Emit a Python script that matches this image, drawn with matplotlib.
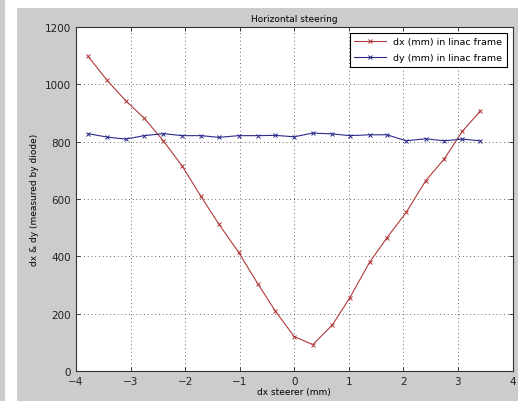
import matplotlib.pyplot as plt
from matplotlib.patches import Rectangle

# steerer positions (mm)
steerer = [-3.78, -3.43, -3.09, -2.75, -2.40, -2.05, -1.71, -1.38, -1.02, -0.67, -0.35,
           0.0, 0.34, 0.70, 1.02, 1.38, 1.70, 2.05, 2.41, 2.75, 3.08, 3.41]
dx_vals = [1098, 1014, 943, 882, 803, 714, 609, 512, 414, 305, 210,
           120, 92, 161, 256, 379, 465, 553, 664, 740, 836, 907]
dy_vals = [828, 816, 809, 821, 828, 821, 821, 815, 821, 821, 822,
           817, 830, 827, 821, 824, 824, 803, 810, 803, 809, 803]

xticks = [-4, -3, -2, -1, 0, 1, 2, 3, 4]
yticks = [0, 200, 400, 600, 800, 1000, 1200]

plt.rcParams['font.family'] = ['DejaVu Sans']
plt.rcParams['font.size'] = 7

fig = plt.figure(figsize=(5.18, 4.02), dpi=100)
fig.patch.set_facecolor('white')

# grey window panels behind the axes
fig.patches.append(Rectangle((0, 0), 5 / 518, 1, transform=fig.transFigure,
                             facecolor='#cccccc', edgecolor='none', zorder=-10))
fig.patches.append(Rectangle((17 / 518, 0), 1 - 17 / 518, 1 - 9 / 402,
                             transform=fig.transFigure,
                             facecolor='#cccccc', edgecolor='none', zorder=-10))

ax = fig.add_axes([76 / 518, 1 - 372 / 402, (512.5 - 76) / 518, (372 - 28) / 402])
ax.set_facecolor('white')

ax.plot(steerer, dx_vals, color='#b03a3a', marker='x', markersize=3.5,
        linewidth=0.8, markeredgewidth=0.7, label='dx (mm) in linac frame')
ax.plot(steerer, dy_vals, color='#2a2a8c', marker='x', markersize=3.5,
        linewidth=0.8, markeredgewidth=0.7, label='dy (mm) in linac frame')

ax.set_xlim(-4, 4)
ax.set_ylim(0, 1200)
ax.set_xticks(xticks)
ax.set_yticks(yticks)
ax.tick_params(direction='in', length=3, width=0.6, colors='#222222',
               top=True, right=True, labelsize=7.5)
ax.grid(True, linestyle=(0, (1, 3.5)), color='#333333', linewidth=0.6)
for s in ax.spines.values():
    s.set_linewidth(0.8)
    s.set_color('#333333')

ax.set_title('Horizontal steering', fontsize=6.5, pad=4)
ax.set_xlabel('dx steerer (mm)', fontsize=6.5, labelpad=1)
ax.set_ylabel('dx & dy (measured by diode)', fontsize=6.5, labelpad=4)

leg = ax.legend(loc='upper right', fontsize=6.8, frameon=True, fancybox=False,
                edgecolor='black', framealpha=1, handlelength=3.3,
                borderpad=0.5, labelspacing=0.75, borderaxespad=0.6)
leg.get_frame().set_linewidth(0.8)

fig.savefig('out.png', dpi=100)
